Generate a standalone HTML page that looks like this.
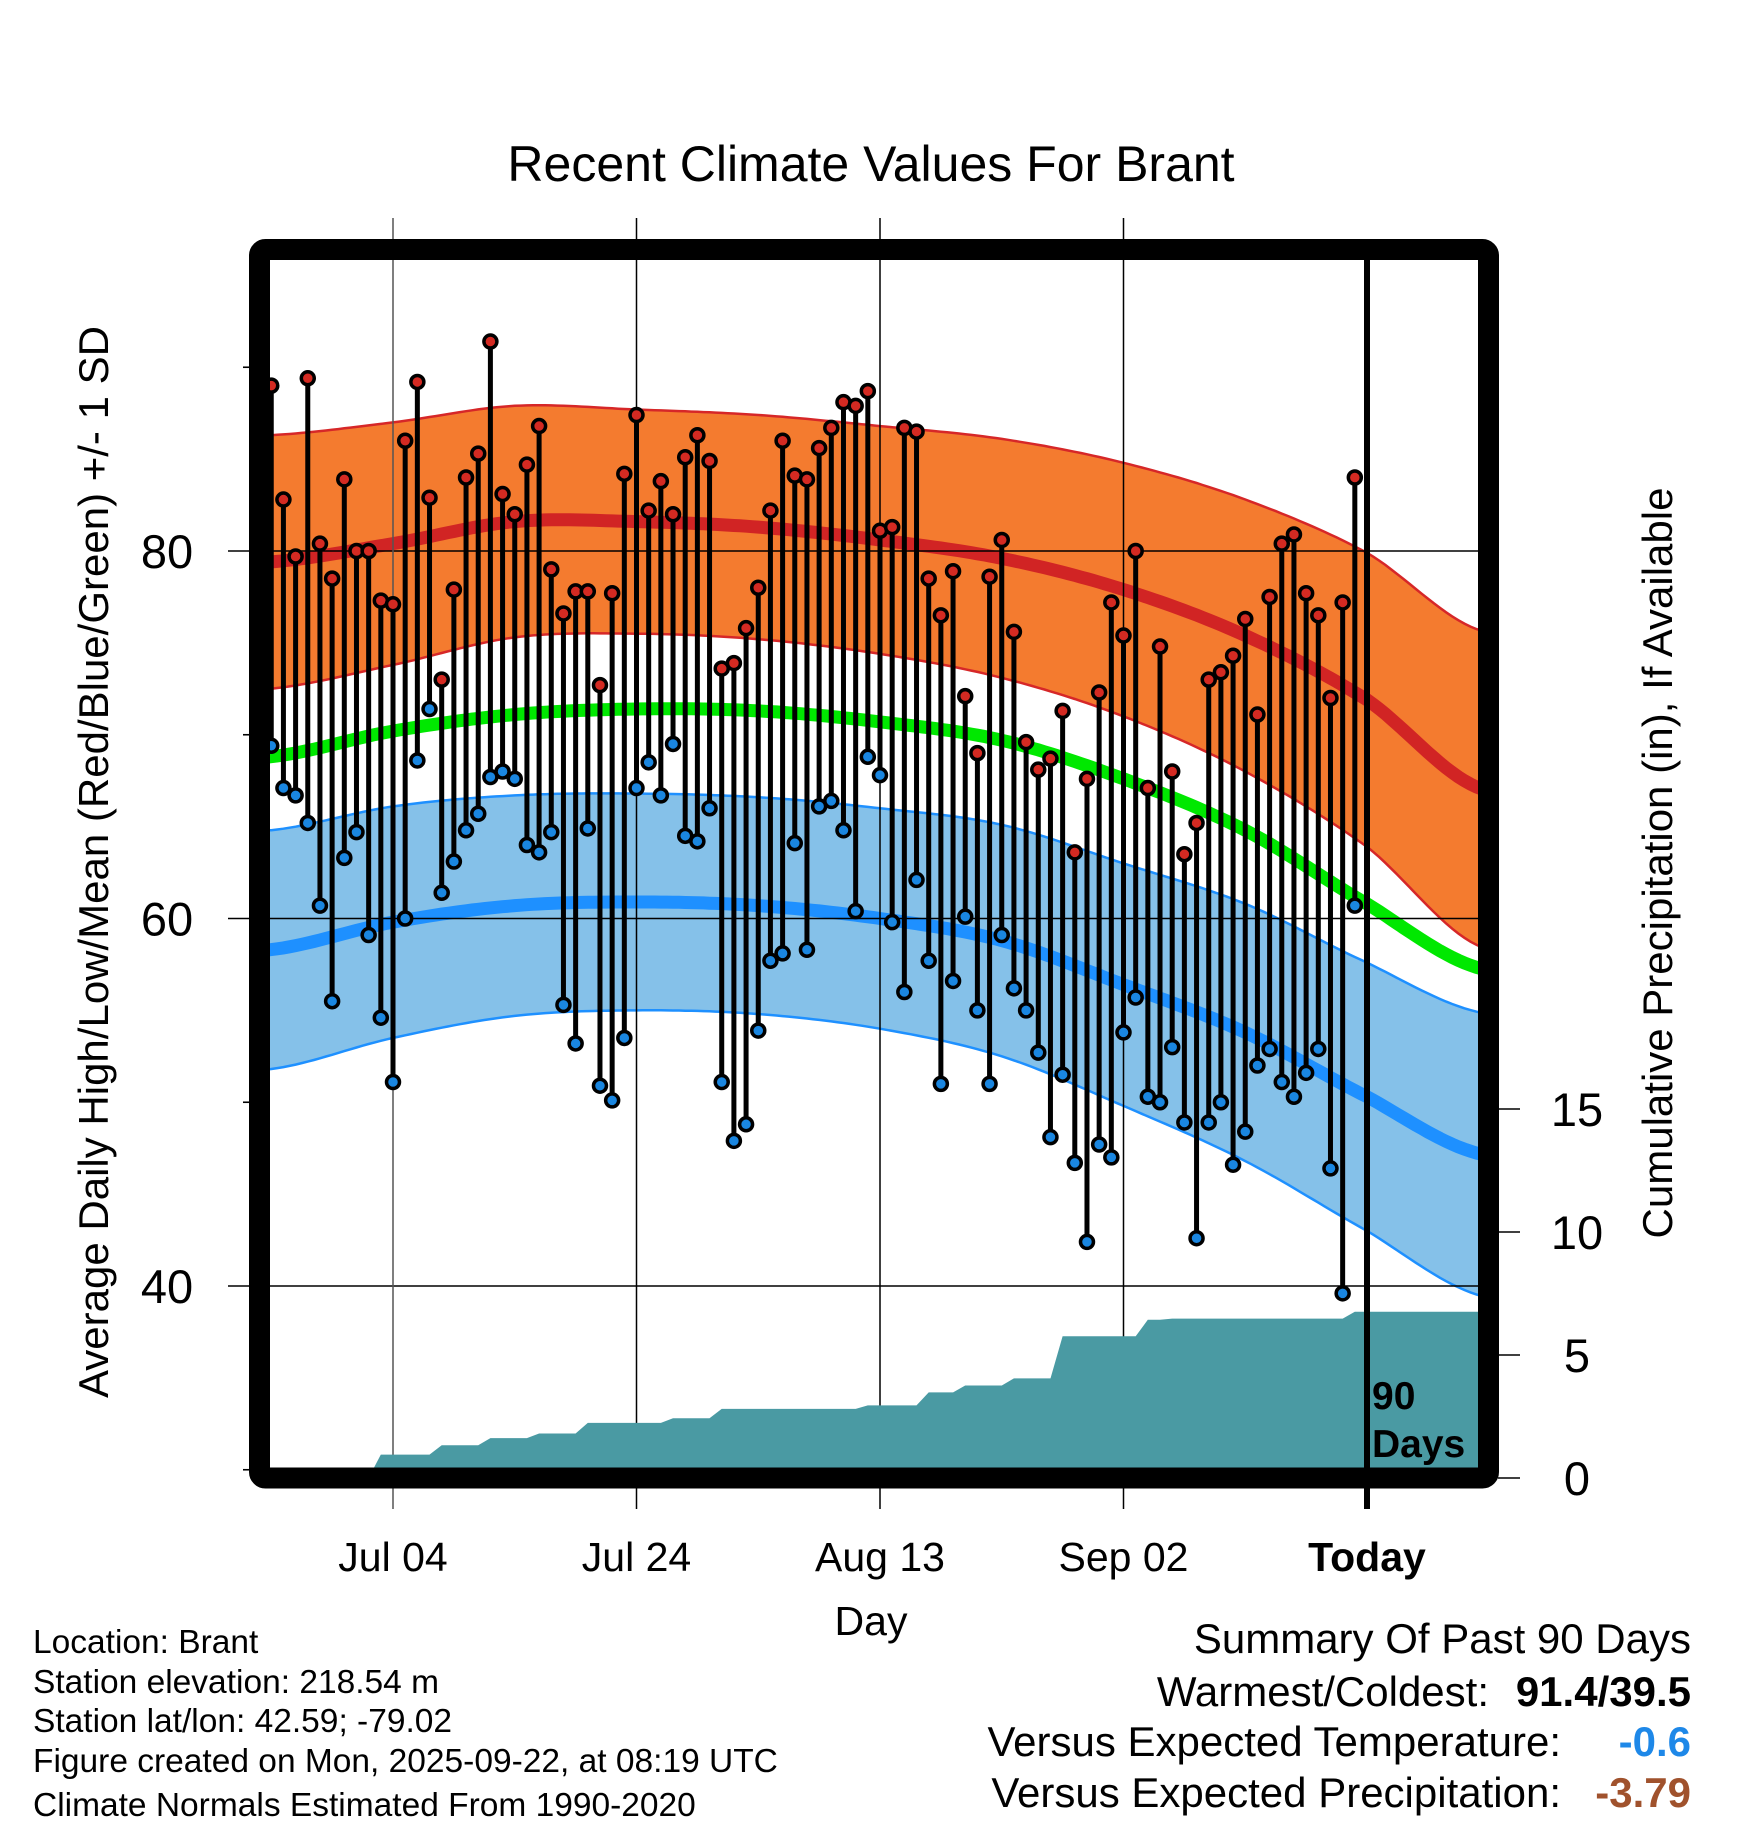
<!DOCTYPE html>
<html><head><meta charset="utf-8"><style>
html,body{margin:0;padding:0;background:#fff;}
svg{display:block;font-family:"Liberation Sans",sans-serif;}
</style></head><body>
<svg id="chart" width="1748" height="1828" viewBox="0 0 1748 1828" xmlns="http://www.w3.org/2000/svg">
<defs><clipPath id="plotclip"><rect x="270" y="260" width="1208" height="1208"/></clipPath></defs>
<g id="bands" clip-path="url(#plotclip)"></g>
<g id="grid"></g>
<g id="precip" clip-path="url(#plotclip)"></g>
<g id="marks"></g>
<g id="axes"></g>
<text x="871" y="181" font-size="50" text-anchor="middle">Recent Climate Values For Brant</text>
<text transform="translate(108,862) rotate(-90)" font-size="42" text-anchor="middle">Average Daily High/Low/Mean (Red/Blue/Green) +/- 1 SD</text>
<text transform="translate(1672,863) rotate(-90)" font-size="42" text-anchor="middle">Cumulative Precipitation (in), If Available</text>
<text x="871" y="1635" font-size="41" text-anchor="middle">Day</text>
<g font-size="33.5">
<text x="33" y="1653">Location: Brant</text>
<text x="33" y="1693">Station elevation: 218.54 m</text>
<text x="33" y="1732">Station lat/lon: 42.59; -79.02</text>
<text x="33" y="1772">Figure created on Mon, 2025-09-22, at 08:19 UTC</text>
<text x="33" y="1816">Climate Normals Estimated From 1990-2020</text>
</g>
<g font-size="42" text-anchor="end">
<text x="1691" y="1653">Summary Of Past 90 Days</text>
<text x="1489" y="1706">Warmest/Coldest:</text>
<text x="1691" y="1706" font-weight="bold">91.4/39.5</text>
<text x="1561" y="1756">Versus Expected Temperature:</text>
<text x="1691" y="1756" font-weight="bold" fill="#1e88e8">-0.6</text>
<text x="1561" y="1807">Versus Expected Precipitation:</text>
<text x="1691" y="1807" font-weight="bold" fill="#a0522d">-3.79</text>
</g>
</svg>
<script>
// day offsets relative to Jul 04
const highs=[89.0,82.8,79.7,89.4,80.4,78.5,83.9,80.0,80.0,77.3,77.1,86.0,89.2,82.9,73.0,77.9,84.0,85.3,91.4,83.1,82.0,84.7,86.8,79.0,76.6,77.8,77.8,72.7,77.7,84.2,87.4,82.2,83.8,82.0,85.1,86.3,84.9,73.6,73.9,75.8,78.0,82.2,86.0,84.1,83.9,85.6,86.7,88.1,87.9,88.7,81.1,81.3,86.7,86.5,78.5,76.5,78.9,72.1,69.0,78.6,80.6,75.6,69.6,68.1,68.7,71.3,63.6,67.6,72.3,77.2,75.4,80.0,67.1,74.8,68.0,63.5,65.2,73.0,73.4,74.3,76.3,71.1,77.5,80.4,80.9,77.7,76.5,72.0,77.2,84.0];
const lows=[69.4,67.1,66.7,65.2,60.7,55.5,63.3,64.7,59.1,54.6,51.1,60.0,68.6,71.4,61.4,63.1,64.8,65.7,67.7,68.0,67.6,64.0,63.6,64.7,55.3,53.2,64.9,50.9,50.1,53.5,67.1,68.5,66.7,69.5,64.5,64.2,66.0,51.1,47.9,48.8,53.9,57.7,58.1,64.1,58.3,66.1,66.4,64.8,60.4,68.8,67.8,59.8,56.0,62.1,57.7,51.0,56.6,60.1,55.0,51.0,59.1,56.2,55.0,52.7,48.1,51.5,46.7,42.4,47.7,47.0,53.8,55.7,50.3,50.0,53.0,48.9,42.6,48.9,50.0,46.6,48.4,52.0,52.9,51.1,50.3,51.6,52.9,46.4,39.6,60.7];
const dailyPrecip=[0,0,0,0,0,0,0,0,0,0.95,0,0,0,0,0.38,0,0,0,0.29,0,0,0,0.19,0,0,0,0.43,0,0,0,0,0,0,0.19,0,0,0,0.38,0,0,0,0,0,0,0,0,0,0,0,0.14,0,0,0,0,0.53,0,0,0.28,0,0,0,0.29,0,0,0,1.71,0,0,0,0,0,0,0.67,0,0.05,0,0,0,0,0,0,0,0,0,0,0,0,0,0,0.28];
const normDays=[-10.1,0,10,20,30,40,50,60,70,80,89.2];
const normHigh=[79.4,80.4,81.6,81.6,81.3,80.6,79.6,77.9,75.4,71.9,67.1];
const sdHigh=[6.9,6.6,6.3,6.1,6.1,6.2,6.5,6.9,7.4,8.0,8.6];
const normMean=[68.8,70.2,71.1,71.4,71.3,70.7,69.7,67.6,64.8,60.8,57.3];
const normLow=[58.3,59.8,60.7,60.9,60.7,60.0,58.8,56.4,53.8,50.3,47.2];
const sdLow=[6.5,6.3,6.0,5.9,5.9,6.0,6.3,6.6,7.0,7.3,7.7];
const yTicks=[40,60,80];
const yMinor=[30,50,70,90];
const pTicks=[0,5,10,15];
const xTickDays=[0,20,40,60,80];
const xTickLabels=["Jul 04","Jul 24","Aug 13","Sep 02","Today"];
const firstDay=-10;

const NS="http://www.w3.org/2000/svg";
const X=d=>393+12.175*d;
const Y=t=>551+(80-t)*18.375;
const P=p=>1478-p*24.6;
function mk(tag,attrs,parent){const e=document.createElementNS(NS,tag);for(const k in attrs)e.setAttribute(k,attrs[k]);parent.appendChild(e);return e;}
function interp(arr,d){
  let i=0;while(i<normDays.length-2&&d>normDays[i+1])i++;
  const p0=arr[Math.max(i-1,0)],p1=arr[i],p2=arr[i+1],p3=arr[Math.min(i+2,arr.length-1)];
  const t=(d-normDays[i])/(normDays[i+1]-normDays[i]);
  const t2=t*t,t3=t2*t;
  return 0.5*((2*p1)+(-p0+p2)*t+(2*p0-5*p1+4*p2-p3)*t2+(-p0+3*p1-3*p2+p3)*t3);
}
const samples=[];for(let d=-10.5;d<=89.6;d+=0.5)samples.push(d);
function line(f){return samples.map((d,i)=>(i?'L':'M')+X(d).toFixed(1)+','+Y(f(d)).toFixed(1)).join('');}
function band(fu,fl){const up=samples.map((d,i)=>(i?'L':'M')+X(d).toFixed(1)+','+Y(fu(d)).toFixed(1)).join('');
 const lo=samples.slice().reverse().map(d=>'L'+X(d).toFixed(1)+','+Y(fl(d)).toFixed(1)).join('');return up+lo+'Z';}
const bands=document.getElementById('bands');
let e;
e=mk('path',{d:band(d=>interp(normHigh,d)+interp(sdHigh,d),d=>interp(normHigh,d)-interp(sdHigh,d)),fill:'#f47b2f',stroke:'#d62728','stroke-width':2.5},bands);


e=mk('path',{d:band(d=>interp(normLow,d)+interp(sdLow,d),d=>interp(normLow,d)-interp(sdLow,d)),fill:'#85c1e9',stroke:'#1e90ff','stroke-width':2.5},bands);


e=mk('path',{d:line(d=>interp(normHigh,d)),fill:'none',stroke:'#d12424','stroke-width':13},bands);


e=mk('path',{d:line(d=>interp(normMean,d)),fill:'none',stroke:'#00e800','stroke-width':13},bands);


e=mk('path',{d:line(d=>interp(normLow,d)),fill:'none',stroke:'#1e90ff','stroke-width':13},bands);



const grid=document.getElementById('grid');
yTicks.forEach(t=>{e=mk('line',{x1:228,x2:1478,y1:Y(t),y2:Y(t),stroke:'#000','stroke-width':1.6},grid);

});
xTickDays.forEach((d,i)=>{if(i===4)return;e=mk('line',{x1:X(d),x2:X(d),y1:218,y2:1509,stroke:i===0?'#555':'#000','stroke-width':1.5},grid);

});

const pr=document.getElementById('precip');
let cum=0,pts=[];
dailyPrecip.forEach((v,i)=>{cum+=v;pts.push([X(firstDay+i),P(cum)]);});
let pd='M'+X(firstDay-1)+','+P(0)+'L'+X(firstDay-1)+','+P(0);
pts.forEach(p=>pd+='L'+p[0].toFixed(1)+','+p[1].toFixed(1));
pd+='L1490,'+pts[pts.length-1][1].toFixed(1)+'L1490,1480L'+X(firstDay-1)+',1480Z';
e=mk('path',{d:pd,fill:'#4a9aa3'},pr);



const marks=document.getElementById('marks');
highs.forEach((h,i)=>{const x=X(firstDay+i);
 e=mk('line',{x1:x,x2:x,y1:Y(h),y2:Y(lows[i]),stroke:'#000','stroke-width':5},marks);
 
 });
highs.forEach((h,i)=>{const x=X(firstDay+i);
 e=mk('circle',{cx:x,cy:Y(h),r:6.5,fill:'#d42a22',stroke:'#000','stroke-width':3.5},marks);
 
 
 e=mk('circle',{cx:x,cy:Y(lows[i]),r:6.5,fill:'#1a86e0',stroke:'#000','stroke-width':3.5},marks);
 
 });

const ax=document.getElementById('axes');
e=mk('line',{x1:X(80),x2:X(80),y1:258,y2:1509,stroke:'#000','stroke-width':6},ax);


e=mk('rect',{x:259.5,y:249.5,width:1229,height:1228.5,fill:'none',stroke:'#000','stroke-width':21,rx:6},ax);


yTicks.forEach(t=>{e=mk('text',{x:167,y:Y(t)+17,'font-size':47,'text-anchor':'middle'},ax);e.textContent=t;

});
yMinor.forEach(t=>{e=mk('line',{x1:243,x2:252,y1:Y(t),y2:Y(t),stroke:'#000','stroke-width':1.6},ax);

});
pTicks.forEach(p=>{e=mk('line',{x1:1498,x2:1520,y1:P(p),y2:P(p),stroke:'#000','stroke-width':1.6},ax);


e=mk('text',{x:1577,y:P(p)+17,'font-size':47,'text-anchor':'middle'},ax);e.textContent=p;

});
xTickDays.forEach((d,i)=>{e=mk('text',{x:X(d),y:1571,'font-size':41,'text-anchor':'middle','font-weight':i===4?'bold':'normal'},ax);e.textContent=xTickLabels[i];

});
e=mk('line',{x1:X(80),x2:X(80),y1:1486,y2:1509,stroke:'#000','stroke-width':2},ax);


e=mk('text',{x:1372,y:1409,'font-size':39,'font-weight':'bold'},ax);e.textContent='90';


e=mk('text',{x:1372,y:1457,'font-size':39,'font-weight':'bold'},ax);e.textContent='Days';


</script>
</body></html>
